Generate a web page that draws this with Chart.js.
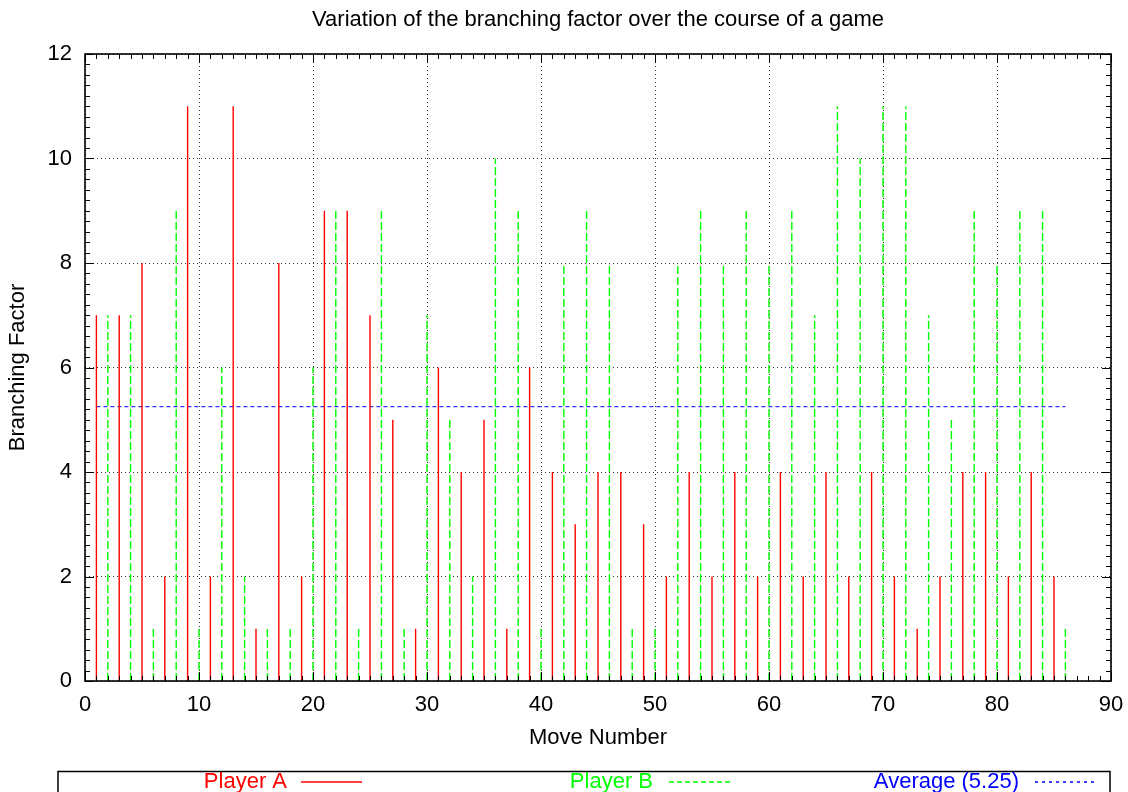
<!DOCTYPE html>
<html><head><meta charset="utf-8">
<script src="https://cdn.jsdelivr.net/npm/chart.js@4.4.0/dist/chart.umd.min.js"></script>
<style>html,body{margin:0;padding:0;background:#fff;}#wrap{width:1128px;height:792px;position:relative;}</style>
</head><body><div id="wrap"><canvas id="c" width="1128" height="792"></canvas></div>
<script>
const chartTitle = "Variation of the branching factor over the course of a game";
const xAxisTitle = "Move Number";
const yAxisTitle = "Branching Factor";
const xTicks = [0,10,20,30,40,50,60,70,80,90];
const yTicks = [0,2,4,6,8,10,12];
const playerALabel = "Player A";
const playerAMoves = [1,3,5,7,9,11,13,15,17,19,21,23,25,27,29,31,33,35,37,39,41,43,45,47,49,51,53,55,57,59,61,63,65,67,69,71,73,75,77,79,81,83,85];
const playerAValues = [7,7,8,2,11,2,11,1,8,2,9,9,7,5,1,6,4,5,1,6,4,3,4,4,3,2,4,2,4,2,4,2,4,2,4,2,1,2,4,4,2,4,2];
const playerBLabel = "Player B";
const playerBMoves = [2,4,6,8,10,12,14,16,18,20,22,24,26,28,30,32,34,36,38,40,42,44,46,48,50,52,54,56,58,60,62,64,66,68,70,72,74,76,78,80,82,84,86];
const playerBValues = [7,7,1,9,1,6,2,1,1,6,9,1,9,1,7,5,2,10,9,1,8,9,8,1,1,8,9,8,9,8,9,7,11,10,11,11,7,5,9,8,9,9,1];
const averageLabel = "Average (5.25)";
const averageValue = 5.25;
const averageFrom = 1, averageTo = 86;

function impulses(moves, values){
  const pts = [];
  moves.forEach((m,i)=>{ pts.push({x:m,y:0}); pts.push({x:m,y:values[i]}); pts.push({x:m,y:null}); });
  return pts;
}

const FONT = "'Liberation Sans', Arial, Helvetica, sans-serif";
const FS = 22;
Chart.defaults.font.family = FONT;
Chart.defaults.color = '#000';

const COLORS = ['#ff0000', '#00ff00', '#0000ff'];
const LEGEND_DASH = [[], [5,3], [3,4]];

const frame = {
  id:'frame',
  afterDraw(chart){
    const {ctx, chartArea:a, scales:{x,y}} = chart;
    ctx.save();
    ctx.fillStyle = '#000';
    ctx.font = FS+"px "+FONT;
    ctx.textAlign='center'; ctx.textBaseline='middle';
    ctx.fillText(chartTitle, (a.left+a.right)/2, 20);
    ctx.strokeStyle='#000'; ctx.lineWidth=1; ctx.setLineDash([]);
    ctx.beginPath();
    const xmin = xTicks[0], xmax = xTicks[xTicks.length-1];
    for (let v=xmin; v<=xmax; v+=1){
      const px = Math.round(x.getPixelForValue(v))+0.5;
      const L = (v%10===0)?9:5;
      ctx.moveTo(px,a.bottom); ctx.lineTo(px,a.bottom-L);
      ctx.moveTo(px,a.top); ctx.lineTo(px,a.top+L);
    }
    const ymax = yTicks[yTicks.length-1];
    for (let i=0;i<=ymax*5;i++){
      const py = Math.round(y.getPixelForValue(i*0.2))+0.5;
      const L = (i%10===0)?9:5;
      ctx.moveTo(a.left,py); ctx.lineTo(a.left+L,py);
      ctx.moveTo(a.right,py); ctx.lineTo(a.right-L,py);
    }
    ctx.stroke();
    ctx.lineWidth=1.6;
    ctx.strokeRect(a.left,a.top,a.right-a.left,a.bottom-a.top);
    ctx.lineWidth=1.5;
    ctx.strokeRect(58,771.5,1052,60);
    ctx.textBaseline='middle'; ctx.textAlign='right';
    const ly = 782;
    const labels = chart.data.datasets.map(d=>d.label);
    const textRight = [287, 653, 1019];
    const sampleL = [301, 669, 1035];
    labels.forEach((lab,i)=>{
      ctx.fillStyle = COLORS[i];
      ctx.fillText(lab, textRight[i], ly);
      ctx.strokeStyle = COLORS[i]; ctx.lineWidth=1.5;
      ctx.setLineDash(LEGEND_DASH[i]);
      ctx.beginPath(); ctx.moveTo(sampleL[i], ly); ctx.lineTo(sampleL[i]+61, ly); ctx.stroke();
    });
    ctx.restore();
  }
};

new Chart(document.getElementById('c'), {
  type:'line',
  data:{ datasets:[
    {label:playerALabel, data:impulses(playerAMoves,playerAValues), borderColor:COLORS[0], borderWidth:1.4, pointRadius:0, spanGaps:false},
    {label:playerBLabel, data:impulses(playerBMoves,playerBValues), borderColor:COLORS[1], borderWidth:1.4, borderDash:[8,3], pointRadius:0, spanGaps:false},
    {label:averageLabel, data:[{x:averageFrom,y:averageValue},{x:averageTo,y:averageValue}], borderColor:'#3333ff', borderWidth:1.2, borderDash:[4,3], pointRadius:0}
  ]},
  options:{
    responsive:false, animation:false, devicePixelRatio:1,
    layout:{padding:{left:0,right:17,top:54,bottom:0}},
    plugins:{
      legend:{display:false}, tooltip:{enabled:false}, title:{display:false}
    },
    scales:{
      x:{type:'linear', min:0, max:90,
        afterBuildTicks:(s)=>{ s.ticks = xTicks.map(v=>({value:v})); },
        afterFit:(s)=>{ s.height = 111; s.paddingLeft = 0; s.paddingRight = 0; },
        ticks:{font:{size:FS}, color:'#000', padding:11, maxRotation:0, autoSkip:false},
        grid:{color:'rgba(0,0,0,0.8)', lineWidth:1, drawTicks:false},
        border:{display:false, dash:[1,3]},
        title:{display:true, text:xAxisTitle, color:'#000', font:{size:FS}, padding:{top:0,bottom:41}}
      },
      y:{type:'linear', min:0, max:12,
        afterBuildTicks:(s)=>{ s.ticks = yTicks.map(v=>({value:v})); },
        afterFit:(s)=>{ s.width = 85; s.paddingTop = 0; s.paddingBottom = 0; },
        ticks:{font:{size:FS}, color:'#000', padding:13},
        grid:{color:'rgba(0,0,0,0.8)', lineWidth:1, drawTicks:false},
        border:{display:false, dash:[1,3]},
        title:{display:true, text:yAxisTitle, color:'#000', font:{size:FS}, padding:{top:5,bottom:0}}
      }
    }
  },
  plugins:[frame]
});
</script></body></html>
